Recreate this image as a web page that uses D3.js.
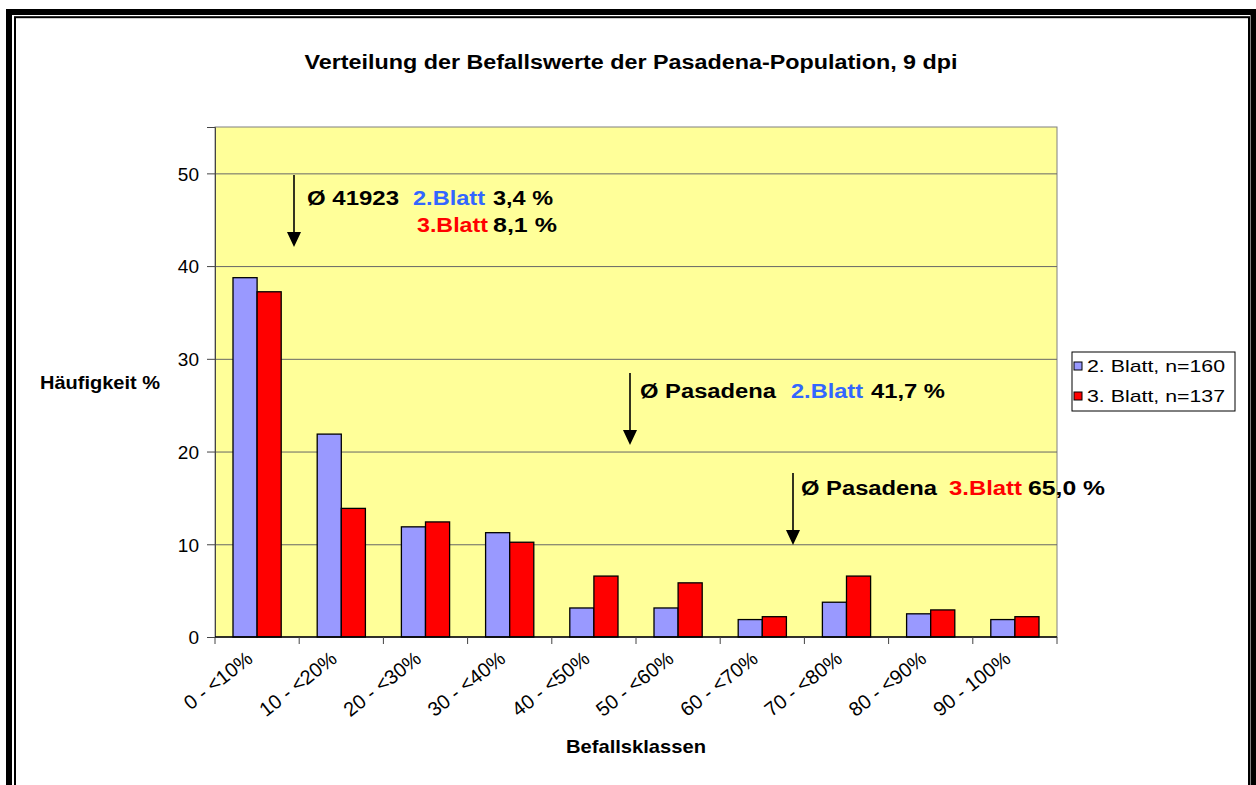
<!DOCTYPE html>
<meta charset="utf-8">
<style>
body { margin: 0; background: #fff; }
text { font-family: Arial, "Liberation Sans", sans-serif; }
.tick text { font-size: 19px; fill: #000; }
</style>
<body>
<script src="https://d3js.org/d3.v7.min.js"></script>
<script>

// data (percent of leaves per class)
const categories = ["0 - <10%", "10 - <20%", "20 - <30%", "30 - <40%", "40 - <50%",
                    "50 - <60%", "60 - <70%", "70 - <80%", "80 - <90%", "90 - 100%"];
const blatt2 = [38.75, 21.88, 11.88, 11.25, 3.13, 3.13, 1.88, 3.75, 2.5, 1.88];
const blatt3 = [37.23, 13.87, 12.41, 10.22, 6.57, 5.84, 2.19, 6.57, 2.92, 2.19];
const seriesNames = ["2. Blatt, n=160", "3. Blatt, n=137"];
const yTicks = [0, 10, 20, 30, 40, 50];

const colors = ["#9999FF", "#FF0000"];
const W = 1256, H = 785;
const plot = {left: 215, right: 1057, top: 127, bottom: 637};

const svg = d3.select("body").append("svg")
    .attr("width", W)
    .attr("height", H);

// double frame round the chart
svg.append("rect").attr("x", 9).attr("y", 12).attr("width", 1244.5).attr("height", 800)
    .attr("fill", "none").attr("stroke", "#000").attr("stroke-width", 6);
svg.append("rect").attr("x", 15).attr("y", 17.2).attr("width", 1234).attr("height", 790)
    .attr("fill", "none").attr("stroke", "#000").attr("stroke-width", 2);

// scales
const x0 = d3.scaleBand().domain(categories)
    .range([plot.left, plot.right])
    .paddingInner(0.4275).paddingOuter(0.21375);
const x1 = d3.scaleBand().domain([0, 1]).range([0, x0.bandwidth()]);
const y = d3.scaleLinear().domain([0, 55]).range([plot.bottom, plot.top]);

// plot area
svg.append("rect")
    .attr("x", plot.left).attr("y", plot.top)
    .attr("width", plot.right - plot.left).attr("height", plot.bottom - plot.top)
    .attr("fill", "#FFFF99").attr("stroke", "#808080").attr("stroke-width", 1);

// gridlines
svg.append("g")
    .attr("transform", `translate(${plot.left},0)`)
    .call(d3.axisLeft(y).tickValues(yTicks.slice(1)).tickSize(-(plot.right - plot.left)).tickFormat(""))
    .call(g => g.select(".domain").remove())
    .call(g => g.selectAll("line").attr("stroke", "#666").attr("stroke-width", 1));

// bars
const grp = svg.append("g").selectAll("g")
    .data(categories)
    .join("g")
    .attr("transform", d => `translate(${x0(d)},0)`);

grp.selectAll("rect")
    .data((d, i) => [blatt2[i], blatt3[i]])
    .join("rect")
    .attr("x", (d, j) => x1(j))
    .attr("y", d => y(d))
    .attr("width", x1.bandwidth())
    .attr("height", d => y(0) - y(d))
    .attr("fill", (d, j) => colors[j])
    .attr("stroke", "#000")
    .attr("stroke-width", 1.3);

// y axis
svg.append("g")
    .attr("transform", `translate(${plot.left},0)`)
    .call(d3.axisLeft(y).tickValues(yTicks).tickSize(8).tickPadding(8))
    .call(g => g.select(".domain").attr("stroke", "#444"))
    .call(g => g.selectAll("line").attr("stroke", "#444"))
    .call(g => g.selectAll("text").attr("font-size", 19).attr("dy", "0.36em"));

// x axis, ticks on category boundaries
const xAxis = svg.append("g")
    .attr("transform", `translate(0,${plot.bottom})`);
xAxis.append("line")
    .attr("x1", plot.left).attr("x2", plot.right)
    .attr("stroke", "#000").attr("stroke-width", 1.3);
const step = x0.step();
xAxis.selectAll("line.tk")
    .data(d3.range(categories.length + 1))
    .join("line")
    .attr("class", "tk")
    .attr("x1", i => plot.left + i * step).attr("x2", i => plot.left + i * step)
    .attr("y1", 0).attr("y2", 7)
    .attr("stroke", "#444");
xAxis.selectAll("text")
    .data(categories)
    .join("text")
    .attr("text-anchor", "end")
    .attr("font-size", 20)
    .attr("transform", d => `translate(${x0(d) + x0.bandwidth() / 2 - 3},${24}) rotate(-38)`)
    .text(d => d);

// titles
svg.append("text")
    .attr("x", 631).attr("y", 69)
    .attr("text-anchor", "middle")
    .attr("font-weight", "bold").attr("font-size", 20)
    .attr("textLength", 653).attr("lengthAdjust", "spacingAndGlyphs")
    .text("Verteilung der Befallswerte der Pasadena-Population, 9 dpi");

svg.append("text")
    .attr("x", 100).attr("y", 389)
    .attr("text-anchor", "middle")
    .attr("font-weight", "bold").attr("font-size", 19)
    .attr("textLength", 120).attr("lengthAdjust", "spacingAndGlyphs")
    .text("Häufigkeit %");

svg.append("text")
    .attr("x", 636).attr("y", 753)
    .attr("text-anchor", "middle")
    .attr("font-weight", "bold").attr("font-size", 19)
    .attr("textLength", 140).attr("lengthAdjust", "spacingAndGlyphs")
    .text("Befallsklassen");

// legend
const legend = svg.append("g");
legend.append("rect")
    .attr("x", 1072).attr("y", 352).attr("width", 163).attr("height", 59)
    .attr("fill", "#fff").attr("stroke", "#000").attr("stroke-width", 1);
seriesNames.forEach((s, i) => {
  legend.append("rect")
      .attr("x", 1074).attr("y", 362 + i * 30).attr("width", 8).attr("height", 8)
      .attr("fill", colors[i]).attr("stroke", "#000").attr("stroke-width", 1);
  legend.append("text")
      .attr("x", 1087).attr("y", 372 + i * 30)
      .attr("font-size", 17)
      .attr("textLength", 138).attr("lengthAdjust", "spacingAndGlyphs")
      .text(s);
});

// annotations: arrows + coloured text pieces
const arrows = [[294, 175, 247], [630, 373, 445], [793, 473, 545]];
arrows.forEach(a => {
  svg.append("line")
      .attr("x1", a[0]).attr("x2", a[0]).attr("y1", a[1]).attr("y2", a[2] - 12)
      .attr("stroke", "#000").attr("stroke-width", 1.6);
  svg.append("path")
      .attr("d", `M${a[0] - 7},${a[2] - 15}L${a[0] + 7},${a[2] - 15}L${a[0]},${a[2]}Z`)
      .attr("fill", "#000");
});

const blue = "#3366FF", red = "#FF0000";
const notes = [
  ["Ø 41923", 307, 205, 92, "#000"], ["2.Blatt", 413, 205, 72, blue], ["3,4 %", 493, 205, 60, "#000"],
  ["3.Blatt", 417, 232, 71, red], ["8,1 %", 493, 232, 64, "#000"],
  ["Ø Pasadena", 640, 398, 136, "#000"], ["2.Blatt", 791, 398, 72, blue], ["41,7 %", 871, 398, 74, "#000"],
  ["Ø Pasadena", 801, 495, 136, "#000"], ["3.Blatt", 949, 495, 73, red], ["65,0 %", 1028, 495, 77, "#000"]
];
svg.append("g").selectAll("text")
    .data(notes)
    .join("text")
    .attr("x", d => d[1]).attr("y", d => d[2])
    .attr("font-weight", "bold").attr("font-size", 20)
    .attr("textLength", d => d[3]).attr("lengthAdjust", "spacingAndGlyphs")
    .attr("fill", d => d[4])
    .text(d => d[0]);

</script>
</body>
